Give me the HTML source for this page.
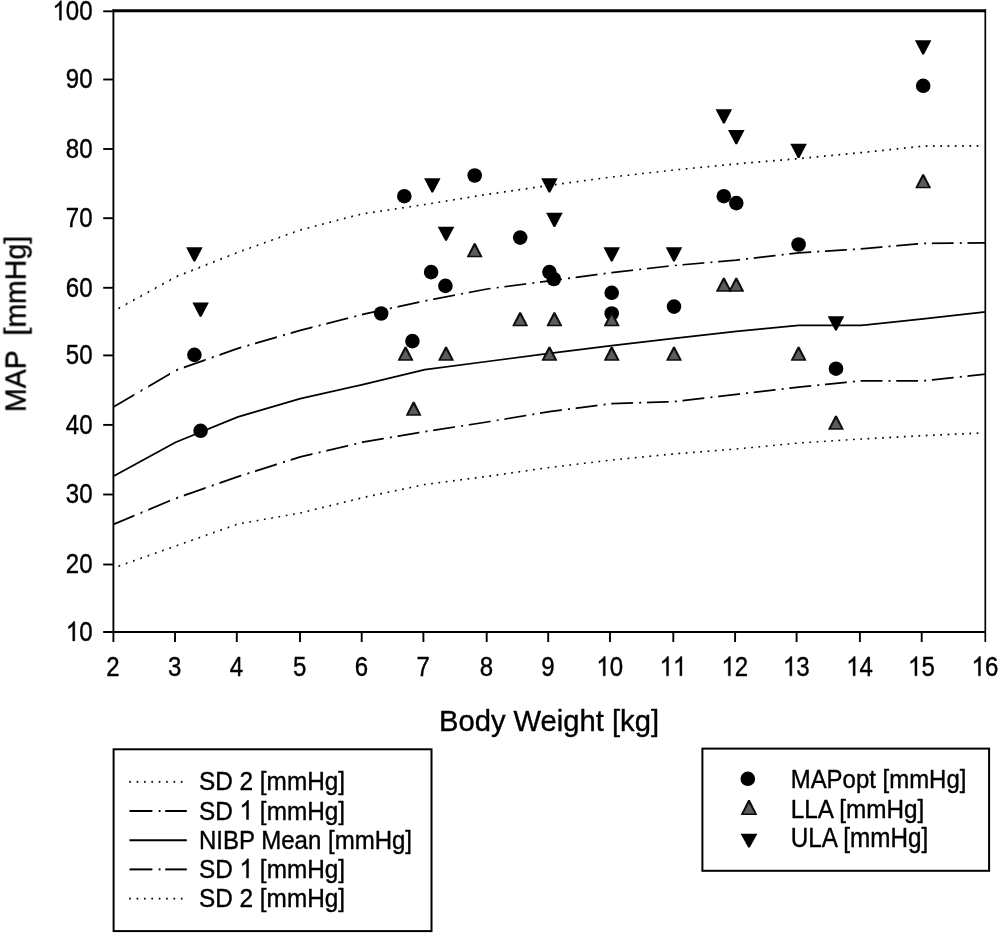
<!DOCTYPE html>
<html><head><meta charset="utf-8"><title>MAP vs Body Weight</title>
<style>html,body{margin:0;padding:0;background:#fff}svg{display:block}text{font-family:"Liberation Sans",sans-serif;fill:#000;stroke:#000;stroke-width:0.4px;stroke-linejoin:round}</style></head><body>
<svg width="1000" height="934" viewBox="0 0 1000 934">
<rect width="1000" height="934" fill="#fff"/>
<defs><filter id="soft" x="0" y="0" width="1000" height="934" filterUnits="userSpaceOnUse"><feGaussianBlur stdDeviation="0.55"/></filter></defs>
<g filter="url(#soft)">
<defs>
<clipPath id="cdd">
<rect x="112.60" y="0" width="21.8" height="700"/>
<rect x="140.50" y="0" width="2" height="700"/>
<rect x="148.22" y="0" width="21.8" height="700"/>
<rect x="176.12" y="0" width="2" height="700"/>
<rect x="183.84" y="0" width="21.8" height="700"/>
<rect x="211.74" y="0" width="2" height="700"/>
<rect x="219.46" y="0" width="21.8" height="700"/>
<rect x="247.36" y="0" width="2" height="700"/>
<rect x="255.08" y="0" width="21.8" height="700"/>
<rect x="282.98" y="0" width="2" height="700"/>
<rect x="290.70" y="0" width="21.8" height="700"/>
<rect x="318.60" y="0" width="2" height="700"/>
<rect x="326.32" y="0" width="21.8" height="700"/>
<rect x="354.22" y="0" width="2" height="700"/>
<rect x="361.94" y="0" width="21.8" height="700"/>
<rect x="389.84" y="0" width="2" height="700"/>
<rect x="397.56" y="0" width="21.8" height="700"/>
<rect x="425.46" y="0" width="2" height="700"/>
<rect x="433.18" y="0" width="21.8" height="700"/>
<rect x="461.08" y="0" width="2" height="700"/>
<rect x="468.80" y="0" width="21.8" height="700"/>
<rect x="496.70" y="0" width="2" height="700"/>
<rect x="504.42" y="0" width="21.8" height="700"/>
<rect x="532.32" y="0" width="2" height="700"/>
<rect x="540.04" y="0" width="21.8" height="700"/>
<rect x="567.94" y="0" width="2" height="700"/>
<rect x="575.66" y="0" width="21.8" height="700"/>
<rect x="603.56" y="0" width="2" height="700"/>
<rect x="611.28" y="0" width="21.8" height="700"/>
<rect x="639.18" y="0" width="2" height="700"/>
<rect x="646.90" y="0" width="21.8" height="700"/>
<rect x="674.80" y="0" width="2" height="700"/>
<rect x="682.52" y="0" width="21.8" height="700"/>
<rect x="710.42" y="0" width="2" height="700"/>
<rect x="718.14" y="0" width="21.8" height="700"/>
<rect x="746.04" y="0" width="2" height="700"/>
<rect x="753.76" y="0" width="21.8" height="700"/>
<rect x="781.66" y="0" width="2" height="700"/>
<rect x="789.38" y="0" width="21.8" height="700"/>
<rect x="817.28" y="0" width="2" height="700"/>
<rect x="825.00" y="0" width="21.8" height="700"/>
<rect x="852.90" y="0" width="2" height="700"/>
<rect x="860.62" y="0" width="21.8" height="700"/>
<rect x="888.52" y="0" width="2" height="700"/>
<rect x="896.24" y="0" width="21.8" height="700"/>
<rect x="924.14" y="0" width="2" height="700"/>
<rect x="931.86" y="0" width="21.8" height="700"/>
<rect x="959.76" y="0" width="2" height="700"/>
<rect x="967.48" y="0" width="21.8" height="700"/>
<rect x="995.38" y="0" width="2" height="700"/>
</clipPath>
<clipPath id="cdot">
<rect x="111.18" y="0" width="1.7" height="700"/>
<rect x="118.45" y="0" width="1.7" height="700"/>
<rect x="125.72" y="0" width="1.7" height="700"/>
<rect x="133.00" y="0" width="1.7" height="700"/>
<rect x="140.27" y="0" width="1.7" height="700"/>
<rect x="147.54" y="0" width="1.7" height="700"/>
<rect x="154.81" y="0" width="1.7" height="700"/>
<rect x="162.09" y="0" width="1.7" height="700"/>
<rect x="169.36" y="0" width="1.7" height="700"/>
<rect x="176.63" y="0" width="1.7" height="700"/>
<rect x="183.91" y="0" width="1.7" height="700"/>
<rect x="191.18" y="0" width="1.7" height="700"/>
<rect x="198.45" y="0" width="1.7" height="700"/>
<rect x="205.73" y="0" width="1.7" height="700"/>
<rect x="213.00" y="0" width="1.7" height="700"/>
<rect x="220.27" y="0" width="1.7" height="700"/>
<rect x="227.54" y="0" width="1.7" height="700"/>
<rect x="234.82" y="0" width="1.7" height="700"/>
<rect x="242.09" y="0" width="1.7" height="700"/>
<rect x="249.36" y="0" width="1.7" height="700"/>
<rect x="256.64" y="0" width="1.7" height="700"/>
<rect x="263.91" y="0" width="1.7" height="700"/>
<rect x="271.18" y="0" width="1.7" height="700"/>
<rect x="278.46" y="0" width="1.7" height="700"/>
<rect x="285.73" y="0" width="1.7" height="700"/>
<rect x="293.00" y="0" width="1.7" height="700"/>
<rect x="300.27" y="0" width="1.7" height="700"/>
<rect x="307.55" y="0" width="1.7" height="700"/>
<rect x="314.82" y="0" width="1.7" height="700"/>
<rect x="322.09" y="0" width="1.7" height="700"/>
<rect x="329.37" y="0" width="1.7" height="700"/>
<rect x="336.64" y="0" width="1.7" height="700"/>
<rect x="343.91" y="0" width="1.7" height="700"/>
<rect x="351.19" y="0" width="1.7" height="700"/>
<rect x="358.46" y="0" width="1.7" height="700"/>
<rect x="365.73" y="0" width="1.7" height="700"/>
<rect x="373.00" y="0" width="1.7" height="700"/>
<rect x="380.28" y="0" width="1.7" height="700"/>
<rect x="387.55" y="0" width="1.7" height="700"/>
<rect x="394.82" y="0" width="1.7" height="700"/>
<rect x="402.10" y="0" width="1.7" height="700"/>
<rect x="409.37" y="0" width="1.7" height="700"/>
<rect x="416.64" y="0" width="1.7" height="700"/>
<rect x="423.92" y="0" width="1.7" height="700"/>
<rect x="431.19" y="0" width="1.7" height="700"/>
<rect x="438.46" y="0" width="1.7" height="700"/>
<rect x="445.73" y="0" width="1.7" height="700"/>
<rect x="453.01" y="0" width="1.7" height="700"/>
<rect x="460.28" y="0" width="1.7" height="700"/>
<rect x="467.55" y="0" width="1.7" height="700"/>
<rect x="474.83" y="0" width="1.7" height="700"/>
<rect x="482.10" y="0" width="1.7" height="700"/>
<rect x="489.37" y="0" width="1.7" height="700"/>
<rect x="496.65" y="0" width="1.7" height="700"/>
<rect x="503.92" y="0" width="1.7" height="700"/>
<rect x="511.19" y="0" width="1.7" height="700"/>
<rect x="518.46" y="0" width="1.7" height="700"/>
<rect x="525.74" y="0" width="1.7" height="700"/>
<rect x="533.01" y="0" width="1.7" height="700"/>
<rect x="540.28" y="0" width="1.7" height="700"/>
<rect x="547.56" y="0" width="1.7" height="700"/>
<rect x="554.83" y="0" width="1.7" height="700"/>
<rect x="562.10" y="0" width="1.7" height="700"/>
<rect x="569.38" y="0" width="1.7" height="700"/>
<rect x="576.65" y="0" width="1.7" height="700"/>
<rect x="583.92" y="0" width="1.7" height="700"/>
<rect x="591.19" y="0" width="1.7" height="700"/>
<rect x="598.47" y="0" width="1.7" height="700"/>
<rect x="605.74" y="0" width="1.7" height="700"/>
<rect x="613.01" y="0" width="1.7" height="700"/>
<rect x="620.29" y="0" width="1.7" height="700"/>
<rect x="627.56" y="0" width="1.7" height="700"/>
<rect x="634.83" y="0" width="1.7" height="700"/>
<rect x="642.11" y="0" width="1.7" height="700"/>
<rect x="649.38" y="0" width="1.7" height="700"/>
<rect x="656.65" y="0" width="1.7" height="700"/>
<rect x="663.92" y="0" width="1.7" height="700"/>
<rect x="671.20" y="0" width="1.7" height="700"/>
<rect x="678.47" y="0" width="1.7" height="700"/>
<rect x="685.74" y="0" width="1.7" height="700"/>
<rect x="693.02" y="0" width="1.7" height="700"/>
<rect x="700.29" y="0" width="1.7" height="700"/>
<rect x="707.56" y="0" width="1.7" height="700"/>
<rect x="714.84" y="0" width="1.7" height="700"/>
<rect x="722.11" y="0" width="1.7" height="700"/>
<rect x="729.38" y="0" width="1.7" height="700"/>
<rect x="736.65" y="0" width="1.7" height="700"/>
<rect x="743.93" y="0" width="1.7" height="700"/>
<rect x="751.20" y="0" width="1.7" height="700"/>
<rect x="758.47" y="0" width="1.7" height="700"/>
<rect x="765.75" y="0" width="1.7" height="700"/>
<rect x="773.02" y="0" width="1.7" height="700"/>
<rect x="780.29" y="0" width="1.7" height="700"/>
<rect x="787.57" y="0" width="1.7" height="700"/>
<rect x="794.84" y="0" width="1.7" height="700"/>
<rect x="802.11" y="0" width="1.7" height="700"/>
<rect x="809.38" y="0" width="1.7" height="700"/>
<rect x="816.66" y="0" width="1.7" height="700"/>
<rect x="823.93" y="0" width="1.7" height="700"/>
<rect x="831.20" y="0" width="1.7" height="700"/>
<rect x="838.48" y="0" width="1.7" height="700"/>
<rect x="845.75" y="0" width="1.7" height="700"/>
<rect x="853.02" y="0" width="1.7" height="700"/>
<rect x="860.30" y="0" width="1.7" height="700"/>
<rect x="867.57" y="0" width="1.7" height="700"/>
<rect x="874.84" y="0" width="1.7" height="700"/>
<rect x="882.11" y="0" width="1.7" height="700"/>
<rect x="889.39" y="0" width="1.7" height="700"/>
<rect x="896.66" y="0" width="1.7" height="700"/>
<rect x="903.93" y="0" width="1.7" height="700"/>
<rect x="911.21" y="0" width="1.7" height="700"/>
<rect x="918.48" y="0" width="1.7" height="700"/>
<rect x="925.75" y="0" width="1.7" height="700"/>
<rect x="933.03" y="0" width="1.7" height="700"/>
<rect x="940.30" y="0" width="1.7" height="700"/>
<rect x="947.57" y="0" width="1.7" height="700"/>
<rect x="954.84" y="0" width="1.7" height="700"/>
<rect x="962.12" y="0" width="1.7" height="700"/>
<rect x="969.39" y="0" width="1.7" height="700"/>
<rect x="976.66" y="0" width="1.7" height="700"/>
</clipPath>
</defs>
<g fill="none" stroke="#000" stroke-width="1.75" stroke-linejoin="round">
<polyline points="113.4,311.3 175.7,276.9 238.0,252.3 300.3,230.0 362.6,213.8 424.9,204.5 487.1,194.3 549.4,185.4 611.7,177.0 674.0,170.0 736.3,163.8 798.6,158.6 860.9,152.7 923.2,146.1 985.5,145.9" stroke-width="1.7" clip-path="url(#cdot)"/>
<polyline points="113.4,568.0 175.7,546.0 238.0,524.0 300.3,513.0 362.6,497.7 424.9,484.5 487.1,476.3 549.4,467.5 611.7,460.0 674.0,453.8 736.3,449.0 798.6,443.0 860.9,439.0 923.2,435.7 985.5,432.8" stroke-width="1.7" clip-path="url(#cdot)"/>
<polyline points="113.4,407.0 175.7,370.4 238.0,348.4 300.3,330.4 362.6,314.4 424.9,300.9 487.1,289.0 549.4,280.9 611.7,272.7 674.0,265.5 736.3,260.2 798.6,252.8 860.9,248.8 923.2,243.3 985.5,242.9" clip-path="url(#cdd)"/>
<polyline points="113.4,524.4 175.7,498.3 238.0,476.7 300.3,456.9 362.6,442.2 424.9,431.6 487.1,422.0 549.4,411.6 611.7,403.6 674.0,401.7 736.3,394.4 798.6,387.2 860.9,380.8 923.2,380.8 985.5,374.2" clip-path="url(#cdd)"/>
<polyline points="113.4,476.3 175.7,442.2 238.0,416.9 300.3,398.6 362.6,384.6 424.9,369.6 487.1,361.5 549.4,353.3 611.7,345.6 674.0,338.3 736.3,331.3 798.6,325.4 860.9,325.4 923.2,318.8 985.5,311.8"/>
</g>
<g>
<circle cx="194.4" cy="354.9" r="7.3" fill="#000"/>
<circle cx="200.6" cy="430.8" r="7.3" fill="#000"/>
<circle cx="381.2" cy="313.5" r="7.3" fill="#000"/>
<circle cx="404.3" cy="196.2" r="7.3" fill="#000"/>
<circle cx="412.4" cy="341.1" r="7.3" fill="#000"/>
<circle cx="431.1" cy="272.1" r="7.3" fill="#000"/>
<circle cx="445.4" cy="285.9" r="7.3" fill="#000"/>
<circle cx="474.7" cy="175.5" r="7.3" fill="#000"/>
<circle cx="520.2" cy="237.6" r="7.3" fill="#000"/>
<circle cx="549.4" cy="272.1" r="7.3" fill="#000"/>
<circle cx="553.8" cy="279.0" r="7.3" fill="#000"/>
<circle cx="611.7" cy="292.8" r="7.3" fill="#000"/>
<circle cx="611.7" cy="313.5" r="7.3" fill="#000"/>
<circle cx="674.0" cy="306.6" r="7.3" fill="#000"/>
<circle cx="723.8" cy="196.2" r="7.3" fill="#000"/>
<circle cx="736.3" cy="203.1" r="7.3" fill="#000"/>
<circle cx="798.6" cy="244.5" r="7.3" fill="#000"/>
<circle cx="836.0" cy="368.7" r="7.3" fill="#000"/>
<circle cx="923.2" cy="85.8" r="7.3" fill="#000"/>
<polygon points="404.64,346.67 406.44,346.67 413.24,360.07 413.24,360.67 397.84,360.67 397.84,360.07" fill="#0a0a0a"/><polygon points="405.54,349.78 410.70,359.17 400.38,359.17" fill="#5c5c5c"/>
<polygon points="412.74,401.87 414.54,401.87 421.34,415.27 421.34,415.87 405.94,415.87 405.94,415.27" fill="#0a0a0a"/><polygon points="413.64,404.98 418.80,414.37 408.47,414.37" fill="#5c5c5c"/>
<polygon points="445.13,346.67 446.93,346.67 453.73,360.07 453.73,360.67 438.33,360.67 438.33,360.07" fill="#0a0a0a"/><polygon points="446.03,349.78 451.19,359.17 440.87,359.17" fill="#5c5c5c"/>
<polygon points="473.78,243.17 475.58,243.17 482.38,256.57 482.38,257.17 466.98,257.17 466.98,256.57" fill="#0a0a0a"/><polygon points="474.68,246.28 479.85,255.67 469.52,255.67" fill="#5c5c5c"/>
<polygon points="519.25,312.17 521.05,312.17 527.85,325.57 527.85,326.17 512.45,326.17 512.45,325.57" fill="#0a0a0a"/><polygon points="520.15,315.28 525.32,324.67 514.99,324.67" fill="#5c5c5c"/>
<polygon points="548.53,346.67 550.33,346.67 557.13,360.07 557.13,360.67 541.73,360.67 541.73,360.07" fill="#0a0a0a"/><polygon points="549.43,349.78 554.59,359.17 544.27,359.17" fill="#5c5c5c"/>
<polygon points="553.51,312.17 555.31,312.17 562.11,325.57 562.11,326.17 546.71,326.17 546.71,325.57" fill="#0a0a0a"/><polygon points="554.41,315.28 559.58,324.67 549.25,324.67" fill="#5c5c5c"/>
<polygon points="610.82,312.17 612.62,312.17 619.42,325.57 619.42,326.17 604.02,326.17 604.02,325.57" fill="#0a0a0a"/><polygon points="611.72,315.28 616.88,324.67 606.56,324.67" fill="#5c5c5c"/>
<polygon points="610.82,346.67 612.62,346.67 619.42,360.07 619.42,360.67 604.02,360.67 604.02,360.07" fill="#0a0a0a"/><polygon points="611.72,349.78 616.88,359.17 606.56,359.17" fill="#5c5c5c"/>
<polygon points="673.11,346.67 674.91,346.67 681.71,360.07 681.71,360.67 666.31,360.67 666.31,360.07" fill="#0a0a0a"/><polygon points="674.01,349.78 679.17,359.17 668.85,359.17" fill="#5c5c5c"/>
<polygon points="722.94,277.67 724.74,277.67 731.54,291.07 731.54,291.67 716.14,291.67 716.14,291.07" fill="#0a0a0a"/><polygon points="723.84,280.78 729.01,290.17 718.68,290.17" fill="#5c5c5c"/>
<polygon points="735.40,277.67 737.20,277.67 744.00,291.07 744.00,291.67 728.60,291.67 728.60,291.07" fill="#0a0a0a"/><polygon points="736.30,280.78 741.46,290.17 731.14,290.17" fill="#5c5c5c"/>
<polygon points="797.69,346.67 799.49,346.67 806.29,360.07 806.29,360.67 790.89,360.67 790.89,360.07" fill="#0a0a0a"/><polygon points="798.59,349.78 803.75,359.17 793.43,359.17" fill="#5c5c5c"/>
<polygon points="835.06,415.67 836.86,415.67 843.66,429.07 843.66,429.67 828.26,429.67 828.26,429.07" fill="#0a0a0a"/><polygon points="835.96,418.78 841.13,428.17 830.80,428.17" fill="#5c5c5c"/>
<polygon points="922.27,174.17 924.07,174.17 930.87,187.57 930.87,188.17 915.47,188.17 915.47,187.57" fill="#0a0a0a"/><polygon points="923.17,177.28 928.33,186.67 918.01,186.67" fill="#5c5c5c"/>
<polygon points="186.38,247.37 202.38,247.37 202.38,247.87 195.18,261.57 193.58,261.57 186.38,247.87" fill="#000"/>
<polygon points="192.61,302.57 208.61,302.57 208.61,303.07 201.41,316.77 199.81,316.77 192.61,303.07" fill="#000"/>
<polygon points="424.32,178.37 440.32,178.37 440.32,178.87 433.12,192.57 431.52,192.57 424.32,178.87" fill="#000"/>
<polygon points="438.03,226.67 454.03,226.67 454.03,227.17 446.83,240.87 445.23,240.87 438.03,227.17" fill="#000"/>
<polygon points="541.43,178.37 557.43,178.37 557.43,178.87 550.23,192.57 548.63,192.57 541.43,178.87" fill="#000"/>
<polygon points="546.41,212.87 562.41,212.87 562.41,213.37 555.21,227.07 553.61,227.07 546.41,213.37" fill="#000"/>
<polygon points="603.72,247.37 619.72,247.37 619.72,247.87 612.52,261.57 610.92,261.57 603.72,247.87" fill="#000"/>
<polygon points="666.01,247.37 682.01,247.37 682.01,247.87 674.81,261.57 673.21,261.57 666.01,247.87" fill="#000"/>
<polygon points="715.84,109.37 731.84,109.37 731.84,109.87 724.64,123.57 723.04,123.57 715.84,109.87" fill="#000"/>
<polygon points="728.30,130.07 744.30,130.07 744.30,130.57 737.10,144.27 735.50,144.27 728.30,130.57" fill="#000"/>
<polygon points="790.59,143.87 806.59,143.87 806.59,144.37 799.39,158.07 797.79,158.07 790.59,144.37" fill="#000"/>
<polygon points="827.96,316.37 843.96,316.37 843.96,316.87 836.76,330.57 835.16,330.57 827.96,316.87" fill="#000"/>
<polygon points="915.17,40.37 931.17,40.37 931.17,40.87 923.97,54.57 922.37,54.57 915.17,40.87" fill="#000"/>
</g>
<g stroke="#000" fill="none">
<line x1="113.4" y1="9.3" x2="113.4" y2="642" stroke-width="1.9"/>
<line x1="103.2" y1="632.0" x2="986" y2="632.0" stroke-width="1.9"/>
<line x1="985.3" y1="9.3" x2="985.3" y2="642" stroke-width="1.7"/>
<line x1="112.60000000000001" y1="10.8" x2="986" y2="10.8" stroke-width="3"/>
<line x1="103.2" y1="564.5" x2="113.4" y2="564.5" stroke-width="1.9"/>
<line x1="103.2" y1="494.5" x2="113.4" y2="494.5" stroke-width="1.9"/>
<line x1="103.2" y1="424.9" x2="113.4" y2="424.9" stroke-width="1.9"/>
<line x1="103.2" y1="355.4" x2="113.4" y2="355.4" stroke-width="1.9"/>
<line x1="103.2" y1="287.8" x2="113.4" y2="287.8" stroke-width="1.9"/>
<line x1="103.2" y1="218.2" x2="113.4" y2="218.2" stroke-width="1.9"/>
<line x1="103.2" y1="149.0" x2="113.4" y2="149.0" stroke-width="1.9"/>
<line x1="103.2" y1="79.5" x2="113.4" y2="79.5" stroke-width="1.9"/>
<line x1="103.2" y1="11.3" x2="113.4" y2="11.3" stroke-width="1.9"/>
<line x1="175.0" y1="632.0" x2="175.0" y2="642" stroke-width="1.9"/>
<line x1="236.8" y1="632.0" x2="236.8" y2="642" stroke-width="1.9"/>
<line x1="300.0" y1="632.0" x2="300.0" y2="642" stroke-width="1.9"/>
<line x1="361.7" y1="632.0" x2="361.7" y2="642" stroke-width="1.9"/>
<line x1="423.4" y1="632.0" x2="423.4" y2="642" stroke-width="1.9"/>
<line x1="486.7" y1="632.0" x2="486.7" y2="642" stroke-width="1.9"/>
<line x1="548.2" y1="632.0" x2="548.2" y2="642" stroke-width="1.9"/>
<line x1="610.0" y1="632.0" x2="610.0" y2="642" stroke-width="1.9"/>
<line x1="673.3" y1="632.0" x2="673.3" y2="642" stroke-width="1.9"/>
<line x1="735.1" y1="632.0" x2="735.1" y2="642" stroke-width="1.9"/>
<line x1="796.6" y1="632.0" x2="796.6" y2="642" stroke-width="1.9"/>
<line x1="859.9" y1="632.0" x2="859.9" y2="642" stroke-width="1.9"/>
<line x1="921.7" y1="632.0" x2="921.7" y2="642" stroke-width="1.9"/>
</g>
<path transform="translate(65.87,640.90) scale(0.011733,-0.013184)" d="M763 0H583V1147Q518 1085 412.5 1023T223 930V1104Q374 1175 487 1276T647 1472H763Z" fill="#000" stroke="#000" stroke-width="30.3" stroke-linejoin="round"/><text transform="translate(79.24,640.90) scale(0.89,1)" font-size="27" text-anchor="start">0</text>
<text transform="translate(65.87,573.40) scale(0.89,1)" font-size="27" text-anchor="start">20</text>
<text transform="translate(65.87,503.40) scale(0.89,1)" font-size="27" text-anchor="start">30</text>
<text transform="translate(65.87,433.80) scale(0.89,1)" font-size="27" text-anchor="start">40</text>
<text transform="translate(65.87,364.30) scale(0.89,1)" font-size="27" text-anchor="start">50</text>
<text transform="translate(65.87,296.70) scale(0.89,1)" font-size="27" text-anchor="start">60</text>
<text transform="translate(65.87,227.10) scale(0.89,1)" font-size="27" text-anchor="start">70</text>
<text transform="translate(65.87,157.90) scale(0.89,1)" font-size="27" text-anchor="start">80</text>
<text transform="translate(65.87,88.40) scale(0.89,1)" font-size="27" text-anchor="start">90</text>
<path transform="translate(52.51,20.20) scale(0.011733,-0.013184)" d="M763 0H583V1147Q518 1085 412.5 1023T223 930V1104Q374 1175 487 1276T647 1472H763Z" fill="#000" stroke="#000" stroke-width="30.3" stroke-linejoin="round"/><text transform="translate(65.87,20.20) scale(0.89,1)" font-size="27" text-anchor="start">00</text>
<text transform="translate(106.32,675.80) scale(0.89,1)" font-size="27" text-anchor="start">2</text>
<text transform="translate(168.02,675.80) scale(0.89,1)" font-size="27" text-anchor="start">3</text>
<text transform="translate(229.82,675.80) scale(0.89,1)" font-size="27" text-anchor="start">4</text>
<text transform="translate(293.02,675.80) scale(0.89,1)" font-size="27" text-anchor="start">5</text>
<text transform="translate(354.72,675.80) scale(0.89,1)" font-size="27" text-anchor="start">6</text>
<text transform="translate(416.42,675.80) scale(0.89,1)" font-size="27" text-anchor="start">7</text>
<text transform="translate(479.72,675.80) scale(0.89,1)" font-size="27" text-anchor="start">8</text>
<text transform="translate(541.22,675.80) scale(0.89,1)" font-size="27" text-anchor="start">9</text>
<path transform="translate(596.34,675.80) scale(0.011733,-0.013184)" d="M763 0H583V1147Q518 1085 412.5 1023T223 930V1104Q374 1175 487 1276T647 1472H763Z" fill="#000" stroke="#000" stroke-width="30.3" stroke-linejoin="round"/><text transform="translate(609.70,675.80) scale(0.89,1)" font-size="27" text-anchor="start">0</text>
<path transform="translate(659.64,675.80) scale(0.011733,-0.013184)" d="M763 0H583V1147Q518 1085 412.5 1023T223 930V1104Q374 1175 487 1276T647 1472H763Z" fill="#000" stroke="#000" stroke-width="30.3" stroke-linejoin="round"/><path transform="translate(673.00,675.80) scale(0.011733,-0.013184)" d="M763 0H583V1147Q518 1085 412.5 1023T223 930V1104Q374 1175 487 1276T647 1472H763Z" fill="#000" stroke="#000" stroke-width="30.3" stroke-linejoin="round"/>
<path transform="translate(721.44,675.80) scale(0.011733,-0.013184)" d="M763 0H583V1147Q518 1085 412.5 1023T223 930V1104Q374 1175 487 1276T647 1472H763Z" fill="#000" stroke="#000" stroke-width="30.3" stroke-linejoin="round"/><text transform="translate(734.80,675.80) scale(0.89,1)" font-size="27" text-anchor="start">2</text>
<path transform="translate(782.94,675.80) scale(0.011733,-0.013184)" d="M763 0H583V1147Q518 1085 412.5 1023T223 930V1104Q374 1175 487 1276T647 1472H763Z" fill="#000" stroke="#000" stroke-width="30.3" stroke-linejoin="round"/><text transform="translate(796.30,675.80) scale(0.89,1)" font-size="27" text-anchor="start">3</text>
<path transform="translate(846.24,675.80) scale(0.011733,-0.013184)" d="M763 0H583V1147Q518 1085 412.5 1023T223 930V1104Q374 1175 487 1276T647 1472H763Z" fill="#000" stroke="#000" stroke-width="30.3" stroke-linejoin="round"/><text transform="translate(859.60,675.80) scale(0.89,1)" font-size="27" text-anchor="start">4</text>
<path transform="translate(908.04,675.80) scale(0.011733,-0.013184)" d="M763 0H583V1147Q518 1085 412.5 1023T223 930V1104Q374 1175 487 1276T647 1472H763Z" fill="#000" stroke="#000" stroke-width="30.3" stroke-linejoin="round"/><text transform="translate(921.40,675.80) scale(0.89,1)" font-size="27" text-anchor="start">5</text>
<path transform="translate(971.54,675.80) scale(0.011733,-0.013184)" d="M763 0H583V1147Q518 1085 412.5 1023T223 930V1104Q374 1175 487 1276T647 1472H763Z" fill="#000" stroke="#000" stroke-width="30.3" stroke-linejoin="round"/><text transform="translate(984.90,675.80) scale(0.89,1)" font-size="27" text-anchor="start">6</text>
<text transform="translate(549.00,731.20) scale(0.973,1)" font-size="30" text-anchor="middle">Body Weight [kg]</text>
<text transform="translate(25.6,324) rotate(-90) scale(0.95,1)" font-size="30" text-anchor="middle" style="word-spacing:7.8px">MAP [mmHg]</text>
<rect x="113.6" y="749.3" width="317.9" height="181.8" fill="#fff" stroke="#000" stroke-width="2.0"/>
<rect x="129.20" y="780.9" width="1.7" height="1.9" fill="#111"/>
<rect x="136.58" y="780.9" width="1.7" height="1.9" fill="#111"/>
<rect x="143.96" y="780.9" width="1.7" height="1.9" fill="#111"/>
<rect x="151.34" y="780.9" width="1.7" height="1.9" fill="#111"/>
<rect x="158.72" y="780.9" width="1.7" height="1.9" fill="#111"/>
<rect x="166.10" y="780.9" width="1.7" height="1.9" fill="#111"/>
<rect x="173.48" y="780.9" width="1.7" height="1.9" fill="#111"/>
<rect x="180.86" y="780.9" width="1.7" height="1.9" fill="#111"/>
<text transform="translate(198.90,790.30) scale(0.913,1)" font-size="26.7" text-anchor="start">SD 2 [mmHg]</text>
<line x1="129.5" y1="811.0" x2="152.4" y2="811.0" stroke="#000" stroke-width="2.0"/>
<line x1="158.7" y1="811.0" x2="160.5" y2="811.0" stroke="#000" stroke-width="2.0"/>
<line x1="165.2" y1="811.0" x2="186.8" y2="811.0" stroke="#000" stroke-width="2.0"/>
<text transform="translate(198.90,819.50) scale(0.913,1)" font-size="26.7" text-anchor="start">SD</text>
<path transform="translate(239.54,819.50) scale(0.011903,-0.013037)" d="M763 0H583V1147Q518 1085 412.5 1023T223 930V1104Q374 1175 487 1276T647 1472H763Z" fill="#000" stroke="#000" stroke-width="30.7" stroke-linejoin="round"/>
<text transform="translate(259.87,819.50) scale(0.913,1)" font-size="26.7" text-anchor="start">[mmHg]</text>
<line x1="129.5" y1="840.2" x2="186.8" y2="840.2" stroke="#000" stroke-width="2.0"/>
<text transform="translate(198.90,848.70) scale(0.9,1)" font-size="26.7" text-anchor="start">NIBP Mean [mmHg]</text>
<line x1="129.5" y1="869.4" x2="152.4" y2="869.4" stroke="#000" stroke-width="2.0"/>
<line x1="158.7" y1="869.4" x2="160.5" y2="869.4" stroke="#000" stroke-width="2.0"/>
<line x1="165.2" y1="869.4" x2="186.8" y2="869.4" stroke="#000" stroke-width="2.0"/>
<text transform="translate(198.90,877.90) scale(0.913,1)" font-size="26.7" text-anchor="start">SD</text>
<path transform="translate(239.54,877.90) scale(0.011903,-0.013037)" d="M763 0H583V1147Q518 1085 412.5 1023T223 930V1104Q374 1175 487 1276T647 1472H763Z" fill="#000" stroke="#000" stroke-width="30.7" stroke-linejoin="round"/>
<text transform="translate(259.87,877.90) scale(0.913,1)" font-size="26.7" text-anchor="start">[mmHg]</text>
<rect x="129.20" y="897.7" width="1.7" height="1.9" fill="#111"/>
<rect x="136.58" y="897.7" width="1.7" height="1.9" fill="#111"/>
<rect x="143.96" y="897.7" width="1.7" height="1.9" fill="#111"/>
<rect x="151.34" y="897.7" width="1.7" height="1.9" fill="#111"/>
<rect x="158.72" y="897.7" width="1.7" height="1.9" fill="#111"/>
<rect x="166.10" y="897.7" width="1.7" height="1.9" fill="#111"/>
<rect x="173.48" y="897.7" width="1.7" height="1.9" fill="#111"/>
<rect x="180.86" y="897.7" width="1.7" height="1.9" fill="#111"/>
<text transform="translate(198.90,907.10) scale(0.913,1)" font-size="26.7" text-anchor="start">SD 2 [mmHg]</text>
<rect x="702.4" y="748.6" width="286.7" height="122.2" fill="#fff" stroke="#000" stroke-width="2.0"/>
<circle cx="747.8" cy="778.8" r="7.3" fill="#000"/>
<polygon points="748.10,800.10 749.90,800.10 757.10,814.40 757.10,815.00 740.90,815.00 740.90,814.40" fill="#0a0a0a"/><polygon points="749.00,803.24 754.58,813.50 743.42,813.50" fill="#5c5c5c"/>
<polygon points="740.90,833.80 757.10,833.80 757.10,834.30 749.80,847.50 748.20,847.50 740.90,834.30" fill="#000"/>
<text transform="translate(790.70,788.40) scale(0.897,1)" font-size="26.7" text-anchor="start">MAPopt [mmHg]</text>
<text transform="translate(790.70,818.00) scale(0.91,1)" font-size="26.7" text-anchor="start">LLA [mmHg]</text>
<text transform="translate(790.70,847.00) scale(0.909,1)" font-size="26.7" text-anchor="start">ULA [mmHg]</text>
</g></svg></body></html>
